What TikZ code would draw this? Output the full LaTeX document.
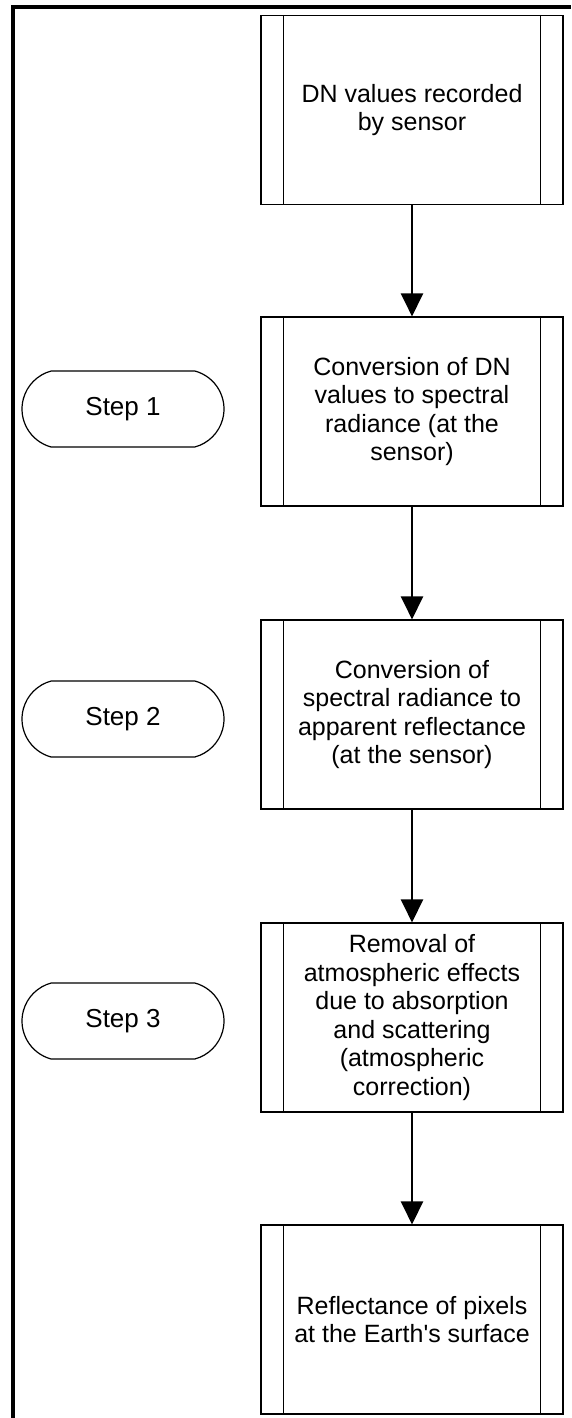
\documentclass[tikz,border=0pt]{standalone}
\usepackage{fontspec}
\setmainfont{Liberation Sans}
\usetikzlibrary{arrows.meta,shapes.misc}

\tikzset{
  procbox/.style={draw,line width=1.2pt,minimum width=302pt,minimum height=189pt,
    align=center,inner sep=0pt,font=\fontsize{25}{28.5}\selectfont},
  stepbox/.style={draw,rounded rectangle,rounded rectangle arc length=150,
    line width=1.2pt,minimum width=202pt,minimum height=76pt,inner sep=0pt,
    font=\fontsize{26}{29}\selectfont},
  flow/.style={line width=2.8pt,-{Triangle[length=23pt,width=22pt]}}
}

\begin{document}
\begin{tikzpicture}[x=1pt,y=-1pt]
  \useasboundingbox (0,0) rectangle (571,1418);
  % frame, top and left side only
  \draw[line width=4.2pt] (13,1418) -- (13,7) -- (571,7);

  % process boxes
  \node[procbox] (dn)   at (412,110)    {DN values recorded\\by sensor};
  \node[procbox] (rad)  at (412,411.5)  {Conversion of DN\\values to spectral\\radiance (at the\\sensor)};
  \node[procbox] (refl) at (412,714.5)  {Conversion of\\spectral radiance to\\apparent reflectance\\(at the sensor)};
  \node[procbox] (atm)  at (412,1017.5) {Removal of\\atmospheric effects\\due to absorption\\and scattering\\(atmospheric\\correction)};
  \node[procbox] (surf) at (412,1319.5) {Reflectance of pixels\\at the Earth\textquotesingle s surface};
  \foreach \b in {dn,rad,refl,atm,surf} {
    \draw[line width=1.2pt] ([xshift=23pt]\b.north west) -- ([xshift=23pt]\b.south west);
    \draw[line width=1.2pt] ([xshift=-23pt]\b.north east) -- ([xshift=-23pt]\b.south east);
  }

  % step labels
  \node[stepbox] (s1) at (123,409)  {Step 1};
  \node[stepbox] (s2) at (123,719)  {Step 2};
  \node[stepbox] (s3) at (123,1021) {Step 3};

  \draw[flow] (dn)   -- (rad);
  \draw[flow] (rad)  -- (refl);
  \draw[flow] (refl) -- (atm);
  \draw[flow] (atm)  -- (surf);
\end{tikzpicture}
\end{document}
